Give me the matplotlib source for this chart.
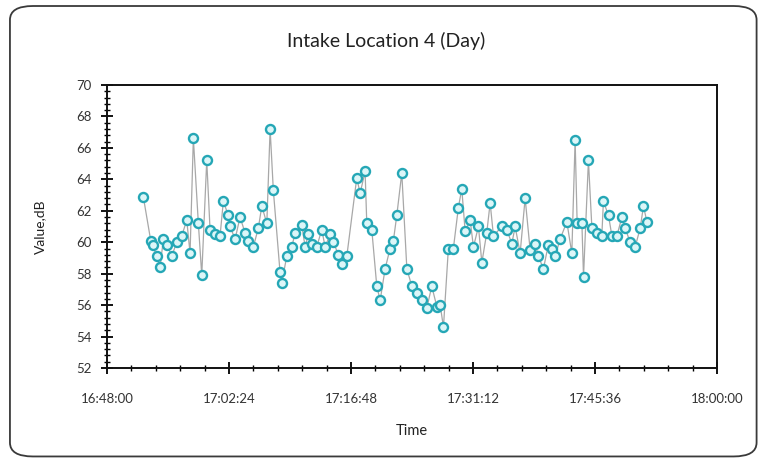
import matplotlib
matplotlib.use("Agg")
import matplotlib.pyplot as plt
import matplotlib.dates as mdates
from matplotlib.ticker import AutoMinorLocator, MultipleLocator, FixedLocator
from matplotlib.patches import FancyBboxPatch
import pandas as pd

plt.rcParams['font.family'] = ['Lato', 'DejaVu Sans']

title = "Intake Location 4 (Day)"
x_label = "Time"
y_label = "Value,dB"
start_time = "2020-01-01 16:48:00"
x_tick_labels = ["16:48:00", "17:02:24", "17:16:48", "17:31:12", "17:45:36", "18:00:00"]
y_ticks = [52, 54, 56, 58, 60, 62, 64, 66, 68, 70]

# minutes after 16:48:00
minutes = [4.28, 5.16, 5.39, 5.87, 6.26, 6.65, 7.12, 7.63, 8.23, 8.82, 9.41, 9.80, 10.19,
           10.78, 11.18, 11.77, 12.16, 12.75, 13.34, 13.73, 14.32, 14.52, 15.12, 15.70, 16.29,
           16.68, 17.27, 17.86, 18.27, 18.86, 19.25, 19.63, 20.42, 20.62, 21.21, 21.81, 22.20,
           22.99, 23.38, 23.76, 24.16, 24.75, 25.35, 25.74, 26.33, 26.72, 27.31, 27.71, 28.30,
           29.48, 29.87, 30.46, 30.66, 31.25, 31.84, 32.24, 32.82, 33.41, 33.80, 34.20, 34.79,
           35.39, 35.98, 36.56, 37.15, 37.74, 38.33, 38.93, 39.32, 39.71, 40.29, 40.88, 41.47,
           41.87, 42.27, 42.86, 43.25, 43.84, 44.24, 44.82, 45.22, 45.61, 46.60, 47.19, 47.78,
           48.17, 48.76, 49.35, 49.94, 50.53, 50.92, 51.51, 52.07, 52.53, 52.89, 53.48, 54.27,
           54.86, 55.25, 55.49, 56.05, 56.24, 56.82, 57.23, 57.81, 58.40, 58.59, 59.19, 59.59,
           60.18, 60.77, 61.16, 61.74, 62.34, 62.93, 63.32, 63.72]
values = [62.9, 60.1, 59.8, 59.1, 58.4, 60.2, 59.8, 59.1, 60.0, 60.4, 61.4, 59.3, 66.6,
          61.2, 57.9, 65.2, 60.8, 60.5, 60.4, 62.6, 61.7, 61.0, 60.2, 61.6, 60.6,
          60.1, 59.7, 60.9, 62.3, 61.2, 67.2, 63.3, 58.1, 57.4, 59.1, 59.7, 60.6,
          61.1, 59.7, 60.5, 59.9, 59.7, 60.8, 59.7, 60.5, 60.0, 59.2, 58.6, 59.1,
          64.1, 63.1, 64.5, 61.2, 60.8, 57.2, 56.3, 58.3, 59.6, 60.1, 61.7, 64.4,
          58.3, 57.2, 56.8, 56.3, 55.8, 57.2, 55.9, 56.0, 54.6, 59.6, 59.6, 62.2,
          63.4, 60.7, 61.4, 59.7, 61.0, 58.7, 60.6, 62.5, 60.4, 61.0, 60.8, 59.9,
          61.0, 59.3, 62.8, 59.5, 59.9, 59.1, 58.3, 59.8, 59.6, 59.1, 60.2, 61.3,
          59.3, 66.5, 61.2, 61.2, 57.8, 65.2, 60.9, 60.6, 60.4, 62.6, 61.7, 60.4,
          60.4, 61.6, 60.9, 60.0, 59.7, 60.9, 62.3, 61.3]

t0 = pd.Timestamp(start_time)
times = [t0 + pd.Timedelta(minutes=m) for m in minutes]
day = t0.strftime("%Y-%m-%d")
tick_times = [pd.Timestamp(f"{day} {s}") for s in x_tick_labels]
tick_nums = mdates.date2num(tick_times)

fig = plt.figure(figsize=(7.65, 4.62), dpi=100)
frame = FancyBboxPatch((0.013, 0.012), 0.976, 0.975, boxstyle="round,pad=0,rounding_size=0.03",
                       transform=fig.transFigure, facecolor="white", edgecolor="#3a3a3a",
                       linewidth=1.3, zorder=-1)
fig.patches.append(frame)

ax = fig.add_axes([0.1399, 0.2035, 0.7974, 0.6125])
ax.plot(times, values, color="#a8a8a8", linewidth=0.9, zorder=2)
ax.plot(times, values, linestyle="none", marker="o", markersize=6.5,
        markerfacecolor="#dcf6f8", markeredgecolor="#25a7b6", markeredgewidth=1.7, zorder=3)

ax.set_xlim(tick_nums[0], tick_nums[-1])
ax.set_ylim(y_ticks[0], y_ticks[-1])
ax.xaxis.set_major_locator(FixedLocator(tick_nums))
ax.set_xticklabels(x_tick_labels)
ax.xaxis.set_minor_locator(AutoMinorLocator(5))
ax.set_yticks(y_ticks)
ax.yaxis.set_minor_locator(MultipleLocator(0.4))

ax.tick_params(axis="both", which="major", direction="inout", length=8, width=1.3,
               labelsize=9.5, colors="black", labelcolor="#333333")
ax.tick_params(axis="x", which="major", pad=14)
ax.tick_params(axis="y", which="major", pad=7)
ax.tick_params(axis="both", which="minor", direction="inout", length=5, width=1.0)
for s in ax.spines.values():
    s.set_linewidth(1.4)
    s.set_color("#111111")

fig.text(0.505, 0.911, title, fontsize=14, color="#222222", ha="center", va="center")
ax.set_xlabel(x_label, fontsize=10.5, color="#222222", labelpad=14)
ax.set_ylabel(y_label, fontsize=10, color="#222222", labelpad=22)

fig.savefig("out.png", dpi=100, facecolor="white")
